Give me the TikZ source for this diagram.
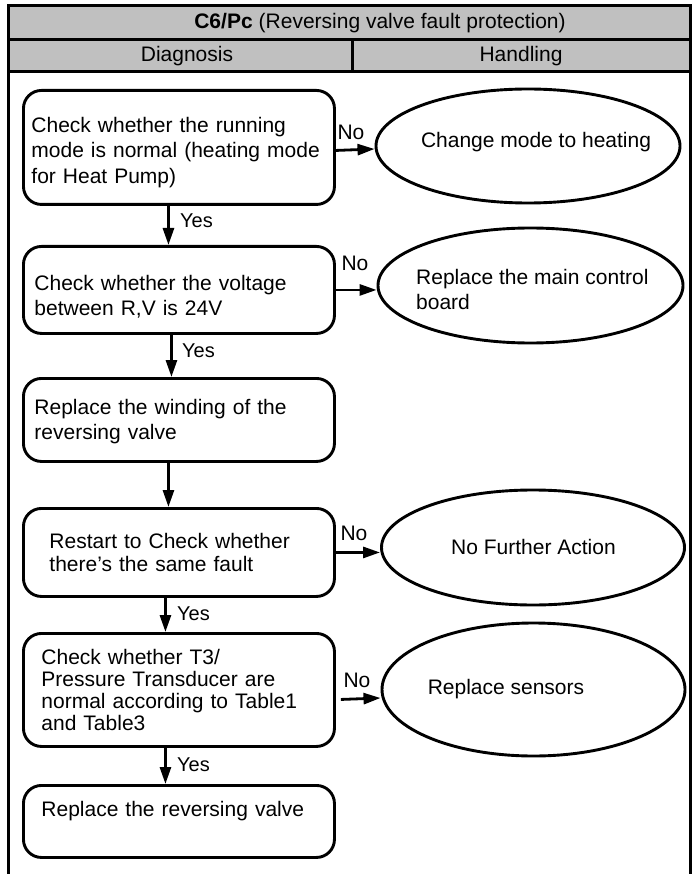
\documentclass[tikz,border=0pt]{standalone}
\usepackage{fontspec}
\setmainfont{Liberation Sans}
\usetikzlibrary{shapes.geometric,arrows.meta}
\definecolor{hdrgray}{HTML}{C0C0C0}
\begin{document}
\begin{tikzpicture}[x=1pt,y=-1pt,
  font=\fontsize{21}{25.5}\selectfont,
  frameline/.style={line width=3pt},
  box/.style={draw,line width=2.9pt,rounded corners=18pt,align=left,anchor=north west,inner ysep=0pt,minimum width=311pt},
  oval/.style={draw,ellipse,line width=2.9pt,inner sep=0pt},
  arr/.style={line width=2.8pt,-{Triangle[length=17pt,width=11pt]}},
  lbl/.style={inner sep=0pt,anchor=west,font=\fontsize{20}{24}\selectfont},
  txt/.style={inner sep=0pt},
]
\useasboundingbox (0,0) rectangle (698,874);

% header
\fill[hdrgray] (8,6) rectangle (690,72);
\draw[frameline] (8,874) -- (8,6) -- (690,6) -- (690,874);
\draw[frameline] (8,40) -- (690,40);
\draw[frameline] (8,72) -- (690,72);
\draw[frameline] (352,40) -- (352,72);
\node[txt] (title) at (380,23) {\textbf{C6/Pc}\hspace{6pt}(Reversing valve fault protection)};
\node[txt] (diag) at (187,56) {Diagnosis};
\node[txt] (hand) at (521,56) {Handling};

% diagnosis boxes
\node[box,inner xsep=8pt,text width=295pt,minimum height=114pt] (b1) at (22,89)
  {\rule{0pt}{25pt}Check whether the running\\mode is normal (heating mode\\for Heat Pump)};
\node[box,inner xsep=11pt,text width=289pt,minimum height=87pt] (b2) at (22,245)
  {\rule{0pt}{28.5pt}Check whether the voltage\\between R,V is 24V};
\node[box,inner xsep=11pt,text width=289pt,minimum height=83pt] (b3) at (22,377)
  {\rule{0pt}{18pt}Replace the winding of the\\reversing valve};
\node[box,inner xsep=26pt,text width=259pt,minimum height=88pt,font=\fontsize{21}{23}\selectfont] (b4) at (22,507)
  {Restart to Check whether\\there’s the same fault};
\node[box,inner xsep=18pt,text width=275pt,minimum height=113pt,font=\fontsize{21}{22}\selectfont] (b5) at (22,632)
  {Check whether T3/\\Pressure Transducer are\\normal according to Table1\\and Table3};
\node[box,inner xsep=18pt,text width=275pt,minimum height=72pt] (b6) at (22,784)
  {Replace the reversing valve\\\mbox{}};

% handling ellipses
\node[oval,minimum width=304pt,minimum height=114pt] (e1) at (528,146) {};
\node[txt] (t1) at (536,142) {Change mode to heating};
\node[oval,minimum width=305pt,minimum height=115pt] (e2) at (530.5,285.5) {};
\node[txt,anchor=west,align=left,font=\fontsize{21}{25}\selectfont] (t2) at (416,289.5) {Replace the main control\\board};
\node[oval,minimum width=303pt,minimum height=115pt] (e3) at (533,547.5) {};
\node[txt] (t3) at (533.5,547) {No Further Action};
\node[oval,minimum width=303pt,minimum height=133pt] (e4) at (533.5,689.5) {};
\node[txt] (t4) at (506,689) {Replace sensors};

% vertical arrows
\draw[arr] ([xshift=-10.5pt]b1.south) -- ([xshift=-10.5pt]b2.north);
\draw[arr] ([xshift=-7.5pt]b2.south) -- ([xshift=-7.5pt]b3.north);
\draw[arr] ([xshift=-10.5pt]b3.south) -- ([xshift=-10.5pt]b4.north);
\draw[arr] ([xshift=-13.5pt]b4.south) -- ([xshift=-13.5pt]b5.north);
\draw[arr] ([xshift=-13.5pt]b5.south) -- ([xshift=-13.5pt]b6.north);
\node[lbl] (y1) at (180,221) {Yes};
\node[lbl] (y2) at (182,351) {Yes};
\node[lbl] (y4) at (177,614) {Yes};
\node[lbl] (y5) at (177,765) {Yes};

% horizontal arrows
\draw[arr] ([yshift=-3pt]b1.east) -- ([yshift=-3pt]e1.west);
\draw[arr] (b2.east) -- (e2.west |- b2.east);
\draw[arr] (b4.east) -- (e3.west |- b4.east);
\draw[arr] ([xshift=5pt,yshift=-9.5pt]b5.east) -- ([yshift=-8.5pt]e4.west);
\node[lbl,anchor=center,font=\fontsize{21}{25}\selectfont] (n1) at (351,132) {No};
\node[lbl,anchor=center,font=\fontsize{21}{25}\selectfont] (n2) at (355,263) {No};
\node[lbl,anchor=center,font=\fontsize{21}{25}\selectfont] (n3) at (354,533) {No};
\node[lbl,anchor=center,font=\fontsize{21}{25}\selectfont] (n4) at (357,680) {No};
\end{tikzpicture}
\end{document}
